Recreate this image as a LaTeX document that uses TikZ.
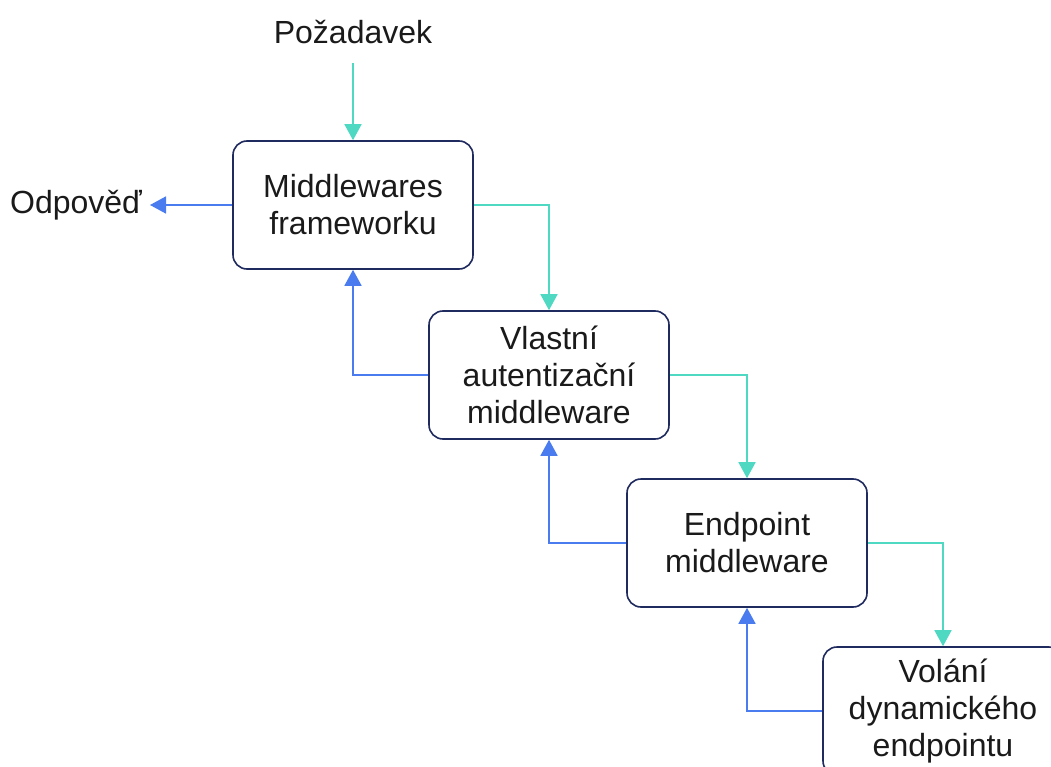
\documentclass[tikz,border=0pt]{standalone}
\usepackage{fontspec}
\setmainfont{Liberation Sans}
\usetikzlibrary{arrows.meta}
\definecolor{teal1}{HTML}{4FD8C2}
\definecolor{blue1}{HTML}{4A7CF0}
\definecolor{navy}{HTML}{1F2A5E}
\definecolor{txt}{HTML}{1A1A1A}
\tikzset{
  mbox/.style={draw=navy, line width=1.6pt, rounded corners=14pt, minimum width=240pt, minimum height=128pt, inner sep=0pt, align=center, font=\fontsize{32}{37}\selectfont, text=txt, fill=white},
  lbl/.style={inner sep=0pt, font=\fontsize{32}{37}\selectfont, text=txt},
  fwd/.style={draw=teal1, line width=1.6pt, -{Triangle[length=16pt,width=17pt]}},
  bwd/.style={draw=blue1, line width=1.6pt, -{Triangle[length=16pt,width=17pt]}},
}
\begin{document}
\begin{tikzpicture}[x=1pt,y=-1pt]
\useasboundingbox (0,0) rectangle (1051,767);
\clip (0,0) rectangle (1051,767);
\node[lbl] (req) at (353,32) {Požadavek};
\node[lbl] (resp) at (76,205) {Odpověď};
\coordinate (reqs) at (353,63);
\coordinate (resps) at (150,205);
\node[mbox] (b1) at (353,205) {Middlewares\\frameworku};
\node[mbox] (b2) at (549,375) {Vlastní\\autentizační\\middleware};
\node[mbox] (b3) at (747,543) {Endpoint\\middleware};
\node[mbox] (b4) at (943,711) {Volání\\dynamického\\endpointu};
\draw[fwd] (reqs) -- (b1.north);
\draw[bwd] (b1.west) -- (resps);
\draw[fwd] (b1.east) -| (b2.north);
\draw[fwd] (b2.east) -| (b3.north);
\draw[fwd] (b3.east) -| (b4.north);
\draw[bwd] (b2.west) -| (b1.south);
\draw[bwd] (b3.west) -| (b2.south);
\draw[bwd] (b4.west) -| (b3.south);
\end{tikzpicture}
\end{document}
